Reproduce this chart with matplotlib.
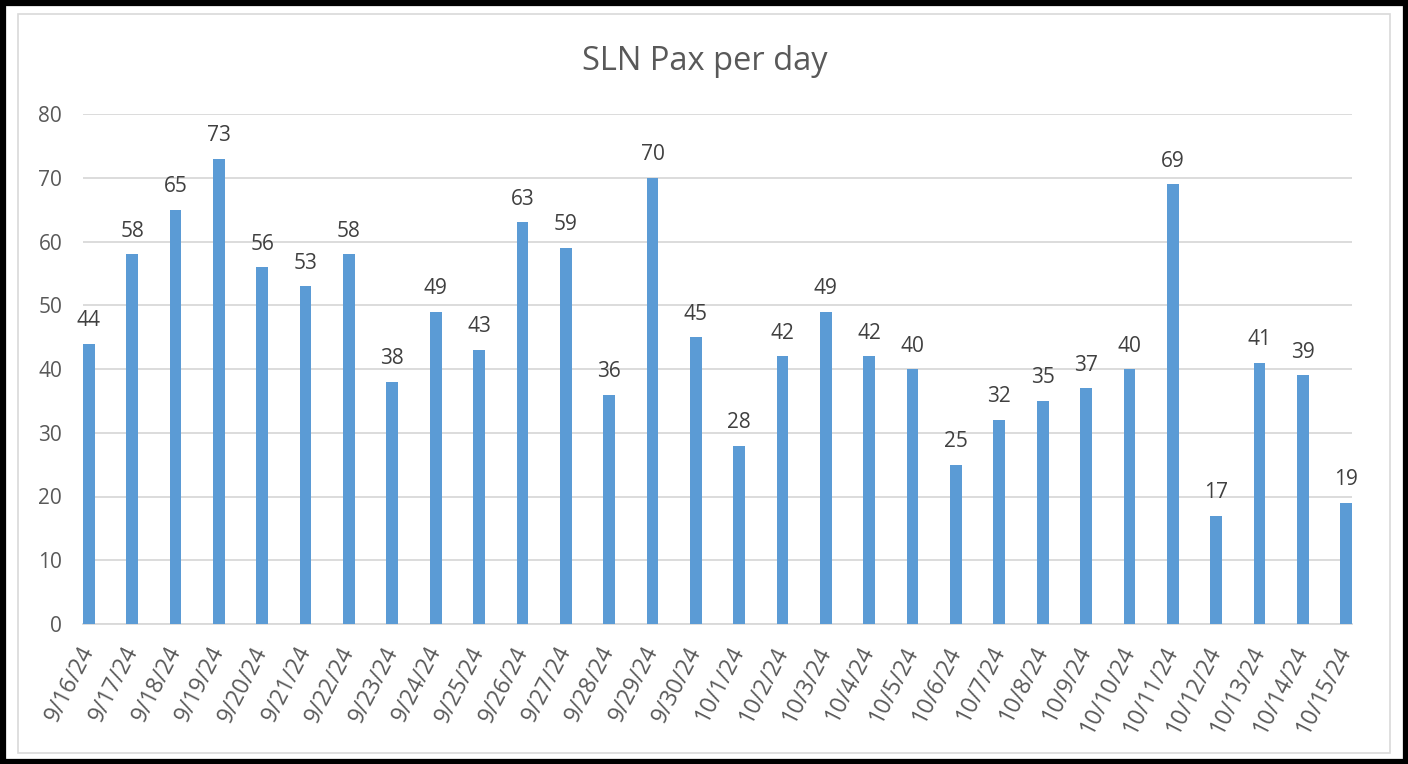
import matplotlib
matplotlib.use("Agg")
import matplotlib.pyplot as plt
from matplotlib.patches import Rectangle

dates = ["9/16/24","9/17/24","9/18/24","9/19/24","9/20/24","9/21/24","9/22/24","9/23/24",
         "9/24/24","9/25/24","9/26/24","9/27/24","9/28/24","9/29/24","9/30/24","10/1/24",
         "10/2/24","10/3/24","10/4/24","10/5/24","10/6/24","10/7/24","10/8/24","10/9/24",
         "10/10/24","10/11/24","10/12/24","10/13/24","10/14/24","10/15/24"]
pax = [44,58,65,73,56,53,58,38,49,43,63,59,36,70,45,28,42,49,42,40,25,32,35,37,40,69,17,41,39,19]
yticks = [0,10,20,30,40,50,60,70,80]

plt.rcParams['font.family'] = ['Open Sans', 'DejaVu Sans']
W, H = 1408, 764
fig = plt.figure(figsize=(W/100, H/100), dpi=100)
fig.patch.set_facecolor('white')

# outer black frame and inner light border
fig.add_artist(Rectangle((2.5/W, 2.5/H), 1-5/W, 1-5/H, transform=fig.transFigure,
                         fill=False, edgecolor='black', linewidth=4.5))
fig.add_artist(Rectangle((18/W, 1-753/H), (1390-18)/W, (753-14)/H, transform=fig.transFigure,
                         fill=False, edgecolor='#D9D9D9', linewidth=1.2))

left, right, top, bottom = 83, 1352, 114, 624
ax = fig.add_axes([left/W, 1-bottom/H, (right-left)/W, (bottom-top)/H])
bw = 0.27
x = list(range(len(pax)))
ax.bar(x, pax, width=bw, color='#5B9BD5', zorder=3)
ax.set_xlim(-bw/2, len(pax)-1+bw/2)
ax.set_ylim(0, 80)
ax.set_yticks(yticks)
ax.yaxis.grid(True, color='#D9D9D9', linewidth=1.3, zorder=0)
for s in ['top','right','left']:
    ax.spines[s].set_visible(False)
ax.spines['bottom'].set_color('#D9D9D9')
ax.spines['bottom'].set_linewidth(1.3)
ax.tick_params(axis='both', length=0, colors='#595959', labelsize=15)
ax.tick_params(axis='y', pad=15)
ax.set_xticks(x)
ax.set_xticklabels(dates, rotation=63, ha='right', va='center', rotation_mode='anchor')
ax.tick_params(axis='x', pad=17, labelsize=16.5)
for xi, v in zip(x, pax):
    ax.annotate(str(v), (xi, v), xytext=(0, 9), textcoords='offset points',
                ha='center', va='bottom', fontsize=15, color='#404040', clip_on=False)
fig.text(705/W, 1-61/H, 'SLN Pax per day', ha='center', va='center', fontsize=23.5, color='#595959')
fig.savefig('out.png', dpi=100)
